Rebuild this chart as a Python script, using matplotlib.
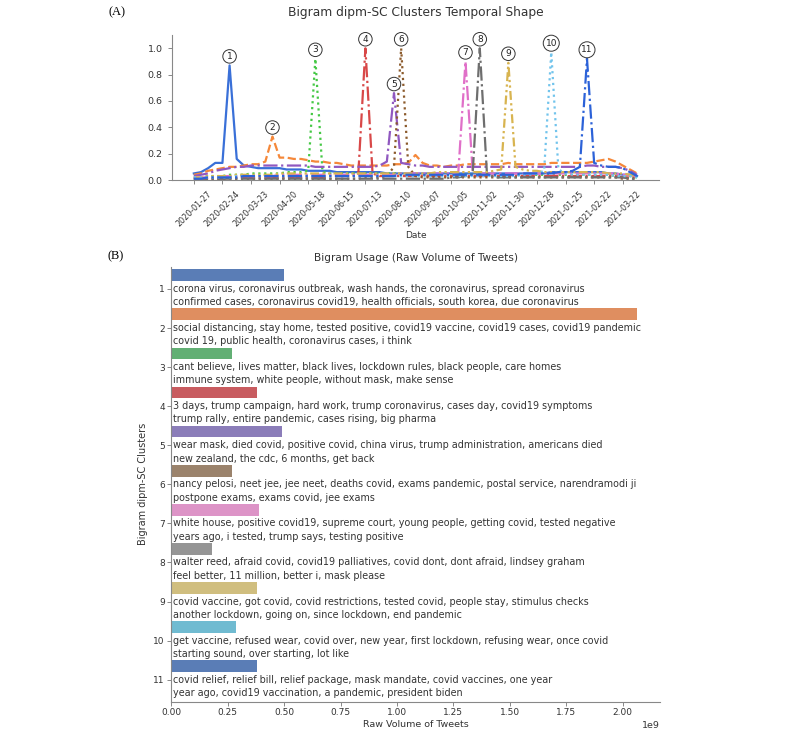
import matplotlib
matplotlib.use("Agg")
import matplotlib.pyplot as plt
import numpy as np
import pandas as pd
import seaborn as sns

# data: weekly normalised bigram volume per cluster (2020-01-27 .. 2021-04-05)
weeks = pd.date_range("2020-01-27", periods=63, freq="7D")
tick_dates = pd.date_range("2020-01-27", "2021-03-22", freq="28D")

c1 = [0.05, 0.06, 0.09, 0.13, 0.13, 0.87, 0.16, 0.11, 0.10, 0.09,
      0.09, 0.09, 0.09, 0.08, 0.08, 0.08, 0.07, 0.07, 0.07, 0.07,
      0.06, 0.06, 0.06, 0.06, 0.06, 0.06, 0.06, 0.05, 0.05, 0.05,
      0.05, 0.05, 0.05, 0.05, 0.05, 0.05, 0.05, 0.05, 0.05, 0.05,
      0.05, 0.05, 0.05, 0.05, 0.05, 0.05, 0.05, 0.05, 0.05, 0.05,
      0.06, 0.06, 0.06, 0.06, 0.06, 0.06, 0.06, 0.06, 0.05, 0.05,
      0.04, 0.04, 0.03]
c2 = [0.04, 0.05, 0.07, 0.08, 0.09, 0.10, 0.10, 0.11, 0.12, 0.12,
      0.14, 0.33, 0.17, 0.17, 0.16, 0.16, 0.15, 0.14, 0.14, 0.13,
      0.13, 0.12, 0.11, 0.11, 0.11, 0.11, 0.11, 0.11, 0.12, 0.12,
      0.13, 0.19, 0.13, 0.11, 0.11, 0.10, 0.11, 0.11, 0.12, 0.12,
      0.12, 0.12, 0.12, 0.12, 0.13, 0.12, 0.12, 0.12, 0.12, 0.12,
      0.13, 0.13, 0.13, 0.13, 0.13, 0.13, 0.14, 0.15, 0.16, 0.14,
      0.11, 0.08, 0.05]
c3 = [0.02, 0.02, 0.03, 0.03, 0.03, 0.04, 0.04, 0.04, 0.05, 0.05,
      0.05, 0.05, 0.05, 0.06, 0.06, 0.06, 0.07, 0.92, 0.06, 0.05,
      0.05, 0.05, 0.05, 0.05, 0.05, 0.05, 0.05, 0.05, 0.05, 0.05,
      0.04, 0.04, 0.04, 0.04, 0.04, 0.04, 0.04, 0.04, 0.04, 0.04,
      0.04, 0.04, 0.04, 0.04, 0.04, 0.04, 0.04, 0.04, 0.04, 0.04,
      0.04, 0.04, 0.04, 0.04, 0.04, 0.04, 0.04, 0.04, 0.04, 0.03,
      0.03, 0.03, 0.02]
c4 = [0.01, 0.01, 0.01, 0.01, 0.01, 0.02, 0.02, 0.02, 0.02, 0.02,
      0.02, 0.02, 0.02, 0.02, 0.02, 0.02, 0.02, 0.02, 0.02, 0.03,
      0.03, 0.03, 0.03, 0.04, 1.00, 0.05, 0.03, 0.03, 0.03, 0.03,
      0.03, 0.03, 0.03, 0.03, 0.03, 0.03, 0.03, 0.03, 0.03, 0.03,
      0.03, 0.03, 0.03, 0.03, 0.03, 0.03, 0.03, 0.03, 0.03, 0.03,
      0.03, 0.03, 0.03, 0.03, 0.03, 0.03, 0.03, 0.03, 0.03, 0.03,
      0.02, 0.02, 0.02]
c5 = [0.03, 0.04, 0.05, 0.07, 0.08, 0.09, 0.10, 0.10, 0.11, 0.11,
      0.11, 0.11, 0.11, 0.11, 0.11, 0.11, 0.11, 0.10, 0.10, 0.10,
      0.10, 0.10, 0.10, 0.10, 0.10, 0.10, 0.11, 0.14, 0.66, 0.13,
      0.12, 0.11, 0.11, 0.10, 0.10, 0.10, 0.10, 0.10, 0.10, 0.10,
      0.10, 0.10, 0.10, 0.10, 0.10, 0.10, 0.10, 0.10, 0.10, 0.10,
      0.10, 0.10, 0.10, 0.10, 0.10, 0.11, 0.11, 0.10, 0.10, 0.10,
      0.09, 0.07, 0.04]
c6 = [0.01, 0.01, 0.01, 0.01, 0.01, 0.01, 0.01, 0.01, 0.01, 0.01,
      0.01, 0.01, 0.01, 0.01, 0.01, 0.01, 0.01, 0.01, 0.01, 0.01,
      0.01, 0.01, 0.01, 0.01, 0.02, 0.02, 0.02, 0.03, 0.10, 1.00,
      0.10, 0.03, 0.02, 0.02, 0.02, 0.02, 0.02, 0.02, 0.02, 0.02,
      0.02, 0.02, 0.02, 0.02, 0.02, 0.02, 0.02, 0.02, 0.02, 0.02,
      0.02, 0.02, 0.02, 0.02, 0.02, 0.02, 0.02, 0.02, 0.02, 0.02,
      0.01, 0.01, 0.01]
c7 = [0.02, 0.02, 0.02, 0.02, 0.03, 0.03, 0.03, 0.03, 0.03, 0.03,
      0.03, 0.03, 0.04, 0.04, 0.04, 0.04, 0.04, 0.04, 0.04, 0.04,
      0.04, 0.04, 0.04, 0.04, 0.04, 0.04, 0.04, 0.04, 0.04, 0.05,
      0.05, 0.05, 0.05, 0.05, 0.05, 0.05, 0.05, 0.06, 0.90, 0.07,
      0.05, 0.05, 0.05, 0.05, 0.05, 0.05, 0.05, 0.05, 0.05, 0.05,
      0.05, 0.05, 0.05, 0.05, 0.05, 0.05, 0.05, 0.05, 0.05, 0.05,
      0.04, 0.04, 0.03]
c8 = [0.01, 0.01, 0.01, 0.01, 0.01, 0.01, 0.01, 0.01, 0.01, 0.01,
      0.01, 0.01, 0.01, 0.01, 0.01, 0.01, 0.01, 0.01, 0.01, 0.01,
      0.01, 0.01, 0.01, 0.01, 0.01, 0.01, 0.01, 0.01, 0.01, 0.01,
      0.01, 0.01, 0.01, 0.01, 0.01, 0.01, 0.02, 0.02, 0.03, 0.04,
      1.00, 0.05, 0.02, 0.02, 0.02, 0.02, 0.02, 0.02, 0.02, 0.02,
      0.02, 0.02, 0.02, 0.02, 0.02, 0.02, 0.02, 0.02, 0.02, 0.02,
      0.02, 0.01, 0.01]
c9 = [0.02, 0.02, 0.03, 0.03, 0.03, 0.03, 0.04, 0.04, 0.04, 0.04,
      0.04, 0.04, 0.05, 0.05, 0.05, 0.05, 0.05, 0.05, 0.05, 0.05,
      0.05, 0.05, 0.05, 0.05, 0.05, 0.05, 0.05, 0.05, 0.05, 0.05,
      0.05, 0.05, 0.05, 0.05, 0.06, 0.06, 0.06, 0.06, 0.06, 0.06,
      0.06, 0.06, 0.07, 0.08, 0.89, 0.10, 0.08, 0.07, 0.07, 0.06,
      0.06, 0.06, 0.06, 0.06, 0.06, 0.06, 0.06, 0.06, 0.05, 0.05,
      0.05, 0.04, 0.03]
c10 = [0.02, 0.02, 0.02, 0.02, 0.02, 0.02, 0.03, 0.03, 0.03, 0.03,
       0.03, 0.03, 0.03, 0.03, 0.03, 0.03, 0.03, 0.03, 0.03, 0.03,
       0.03, 0.03, 0.03, 0.03, 0.03, 0.03, 0.03, 0.03, 0.03, 0.03,
       0.03, 0.03, 0.03, 0.03, 0.03, 0.03, 0.03, 0.03, 0.03, 0.03,
       0.03, 0.03, 0.03, 0.03, 0.03, 0.03, 0.04, 0.04, 0.05, 0.07,
       0.97, 0.08, 0.05, 0.04, 0.04, 0.04, 0.04, 0.04, 0.04, 0.03,
       0.03, 0.03, 0.02]
c11 = [0.01, 0.01, 0.02, 0.02, 0.02, 0.02, 0.02, 0.03, 0.03, 0.03,
       0.03, 0.03, 0.03, 0.03, 0.03, 0.03, 0.03, 0.03, 0.03, 0.03,
       0.03, 0.03, 0.03, 0.03, 0.03, 0.03, 0.03, 0.03, 0.03, 0.04,
       0.04, 0.04, 0.04, 0.04, 0.04, 0.04, 0.04, 0.04, 0.04, 0.04,
       0.04, 0.04, 0.04, 0.04, 0.04, 0.04, 0.05, 0.05, 0.05, 0.05,
       0.05, 0.06, 0.06, 0.07, 0.10, 0.92, 0.13, 0.11, 0.10, 0.10,
       0.09, 0.06, 0.03]
series = [c1, c2, c3, c4, c5, c6, c7, c8, c9, c10, c11]

# bottom panel
clusters = ["1", "2", "3", "4", "5", "6", "7", "8", "9", "10", "11"]
volumes = [0.50e9, 2.065e9, 0.27e9, 0.38e9, 0.49e9, 0.27e9, 0.39e9,
           0.18e9, 0.38e9, 0.285e9, 0.38e9]
bigrams = [
    "corona virus, coronavirus outbreak, wash hands, the coronavirus, spread coronavirus\n"
    "confirmed cases, coronavirus covid19, health officials, south korea, due coronavirus",
    "social distancing, stay home, tested positive, covid19 vaccine, covid19 cases, covid19 pandemic\n"
    "covid 19, public health, coronavirus cases, i think",
    "cant believe, lives matter, black lives, lockdown rules, black people, care homes\n"
    "immune system, white people, without mask, make sense",
    "3 days, trump campaign, hard work, trump coronavirus, cases day, covid19 symptoms\n"
    "trump rally, entire pandemic, cases rising, big pharma",
    "wear mask, died covid, positive covid, china virus, trump administration, americans died\n"
    "new zealand, the cdc, 6 months, get back",
    "nancy pelosi, neet jee, jee neet, deaths covid, exams pandemic, postal service, narendramodi ji\n"
    "postpone exams, exams covid, jee exams",
    "white house, positive covid19, supreme court, young people, getting covid, tested negative\n"
    "years ago, i tested, trump says, testing positive",
    "walter reed, afraid covid, covid19 palliatives, covid dont, dont afraid, lindsey graham\n"
    "feel better, 11 million, better i, mask please",
    "covid vaccine, got covid, covid restrictions, tested covid, people stay, stimulus checks\n"
    "another lockdown, going on, since lockdown, end pandemic",
    "get vaccine, refused wear, covid over, new year, first lockdown, refusing wear, once covid\n"
    "starting sound, over starting, lot like",
    "covid relief, relief bill, relief package, mask mandate, covid vaccines, one year\n"
    "year ago, covid19 vaccination, a pandemic, president biden",
]

line_colors = ["#3a70d8", "#f5883a", "#45c845", "#d84848", "#9058c0", "#8b5a2b",
               "#e070c8", "#6e6e6e", "#d8b450", "#72c4ec", "#2c62d8"]
line_styles = ["-", "--", ":", "-.", "-.", ":", "-.", "-.",
               (0, (4, 1.5, 1, 1.5, 1, 1.5)), ":", "-."]

plt.rcParams["font.family"] = "DejaVu Sans"
text_col = "#333333"
spine_col = "#888888"

fig = plt.figure(figsize=(8, 7.33), dpi=100)

# ---- (A) temporal shape
ax1 = fig.add_axes([0.2146, 0.7544, 0.6094, 0.1977])
for k, vals in enumerate(series):
    ax1.plot(weeks, vals, linestyle=line_styles[k], color=line_colors[k], linewidth=1.6)
    i = int(np.argmax(vals))
    ax1.annotate(str(k + 1), (weeks[i], vals[i]), xytext=(0, 6.5), textcoords="offset points",
                 ha="center", va="center", fontsize=6.5, color="#222222",
                 bbox=dict(boxstyle="circle,pad=0.25", fc="white", ec="#333333", lw=0.7))
ax1.set_ylim(0, 1.1)
ax1.set_yticks([0, 0.2, 0.4, 0.6, 0.8, 1.0])
ax1.set_yticklabels(["0.0", "0.2", "0.4", "0.6", "0.8", "1.0"])
ax1.set_xticks(tick_dates)
ax1.set_xticklabels([d.strftime("%Y-%m-%d") for d in tick_dates], rotation=45, ha="center")
ax1.tick_params(axis="x", labelsize=5.8)
ax1.tick_params(axis="y", labelsize=6.8)
ax1.set_xlabel("Date", fontsize=6.5, color=text_col, labelpad=2)
ax1.set_title("Bigram dipm-SC Clusters Temporal Shape", fontsize=8.8, color=text_col, pad=14)

# ---- (B) raw volume
ax2 = fig.add_axes([0.2140, 0.0423, 0.6110, 0.5939])
ypos = np.arange(len(clusters))
bar_colors = sns.color_palette("deep", len(clusters))
ax2.barh(ypos - 0.35, volumes, height=0.3, color=bar_colors, alpha=0.92)
for i, txt in enumerate(bigrams):
    ax2.text(0.01e9, ypos[i] + 0.17, txt, va="center", ha="left", fontsize=6.95,
             color=text_col, linespacing=1.42)
ax2.set_yticks(ypos)
ax2.set_yticklabels(clusters)
ax2.set_ylim(10.57, -0.57)
ax2.set_xlim(0, 2.165e9)
ax2.set_xticks(np.arange(0, 2.01e9, 0.25e9))
ax2.set_xlabel("Raw Volume of Tweets", fontsize=6.8, color=text_col, labelpad=2)
ax2.set_ylabel("Bigram dipm-SC Clusters", fontsize=7, color=text_col)
ax2.set_title("Bigram Usage (Raw Volume of Tweets)", fontsize=7.6, color=text_col, pad=4)
ax2.tick_params(labelsize=6.5, pad=1.5)
ax2.xaxis.get_offset_text().set_fontsize(6.8)
ax2.xaxis.get_offset_text().set_color(text_col)

for ax in (ax1, ax2):
    for s in ("top", "right"):
        ax.spines[s].set_visible(False)
    for s in ("left", "bottom"):
        ax.spines[s].set_color(spine_col)
        ax.spines[s].set_linewidth(0.8)
    ax.tick_params(colors=spine_col, labelcolor=text_col, length=3, width=0.7)

fig.text(0.146, 0.983, "(A)", fontsize=9, family="Liberation Serif", ha="center", va="center")
fig.text(0.144, 0.651, "(B)", fontsize=9, family="Liberation Serif", ha="center", va="center")

plt.savefig("out.png", dpi=100)
